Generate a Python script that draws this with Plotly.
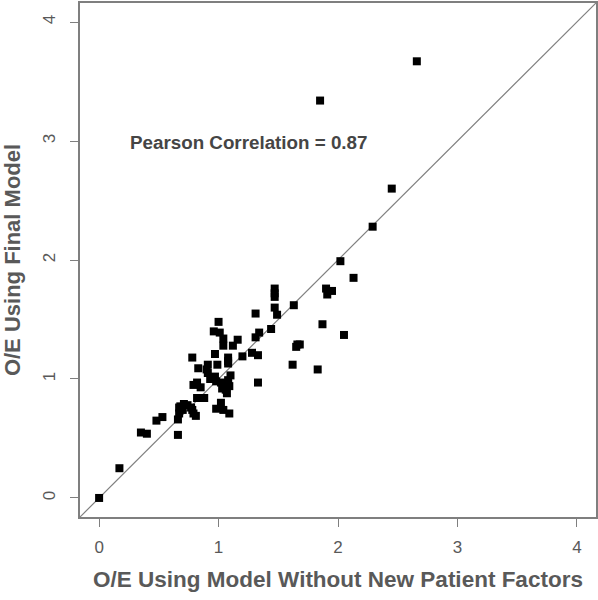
import plotly.graph_objects as go

# O/E using model without new patient factors (x) vs O/E using final model (y)
oe_without = [0.00, 0.17, 0.35, 0.40, 0.48, 0.53, 0.66, 0.66, 0.67, 0.67,
              0.68, 0.71, 0.74, 0.77, 0.78, 0.70, 0.79, 0.81, 0.82, 0.88,
              0.79, 0.82, 0.85, 0.78, 0.83, 0.91, 0.90, 0.91, 0.99, 0.97,
              0.93, 0.97, 0.98, 1.02, 1.04, 1.08, 1.09, 1.03, 1.06, 1.07,
              1.10, 1.08, 1.02, 0.98, 1.04, 1.09, 1.08, 1.08, 1.08, 1.20,
              1.28, 1.33, 1.00, 0.96, 1.01, 1.04, 1.04, 1.16, 1.12, 1.31,
              1.34, 1.31, 1.33, 1.44, 1.47, 1.49, 1.47, 1.47, 1.47, 1.63,
              1.66, 1.68, 1.65, 1.62, 1.83, 1.87, 1.90, 1.95, 1.91, 2.05,
              2.02, 2.13, 2.29, 2.45, 1.85, 2.66]
oe_final = [0.00, 0.25, 0.55, 0.54, 0.65, 0.68, 0.53, 0.66, 0.71, 0.76,
            0.77, 0.79, 0.78, 0.76, 0.74, 0.74, 0.71, 0.69, 0.84, 0.84,
            0.95, 0.97, 0.93, 1.18, 1.09, 1.12, 1.08, 1.05, 1.12, 1.21,
            1.00, 1.02, 0.98, 0.97, 0.95, 0.96, 0.94, 0.92, 0.91, 0.88,
            1.03, 0.99, 0.80, 0.75, 0.74, 0.71, 1.13, 1.18, 1.15, 1.19,
            1.22, 1.20, 1.48, 1.40, 1.39, 1.34, 1.28, 1.33, 1.28, 1.55,
            1.39, 1.35, 0.97, 1.42, 1.60, 1.54, 1.76, 1.72, 1.69, 1.62,
            1.29, 1.29, 1.27, 1.12, 1.08, 1.46, 1.76, 1.74, 1.71, 1.37,
            1.99, 1.85, 2.28, 2.60, 3.34, 3.67]

tick_vals = [0, 1, 2, 3, 4]
axis_range = [-0.16, 4.16]
annotation_text = "<b>Pearson Correlation = 0.87</b>"

font_family = "Liberation Sans, Arial"
grey = "#595959"
line_grey = "#7f7f7f"

fig = go.Figure()
fig.add_trace(go.Scatter(x=axis_range, y=axis_range, mode="lines",
                         line=dict(color="#808080", width=1.2),
                         hoverinfo="skip", showlegend=False))
fig.add_trace(go.Scatter(x=oe_without, y=oe_final, mode="markers",
                         marker=dict(symbol="square", size=8, color="black"),
                         showlegend=False))

fig.add_annotation(x=0.24, y=2.99, xref="x", yref="y", text=annotation_text,
                   showarrow=False, xanchor="left", yanchor="middle",
                   font=dict(family=font_family, size=18.8, color="#454545"))

axis_common = dict(range=axis_range, tickvals=tick_vals, showgrid=False, zeroline=False,
                   showline=True, linecolor=line_grey, linewidth=1.5, mirror=True,
                   ticks="outside", ticklen=8, tickcolor=line_grey, tickwidth=1.2,
                   automargin=False,
                   tickfont=dict(family=font_family, size=17, color=grey))

fig.update_xaxes(**axis_common, ticklabelstandoff=6,
                 title=dict(text="<b>O/E Using Model Without New Patient Factors</b>",
                            font=dict(family=font_family, size=22.5, color=grey),
                            standoff=15))
fig.update_yaxes(**axis_common, tickangle=-90, ticklabelstandoff=8,
                 title=dict(text="<b>O/E Using Final Model</b>",
                            font=dict(family=font_family, size=22, color=grey),
                            standoff=16))

fig.update_layout(width=598, height=600, margin=dict(l=80, r=2, t=3, b=83),
                  plot_bgcolor="white", paper_bgcolor="white")

fig.write_html("out.html", config={"displayModeBar": False},
               post_script="document.body.style.margin='0';")
